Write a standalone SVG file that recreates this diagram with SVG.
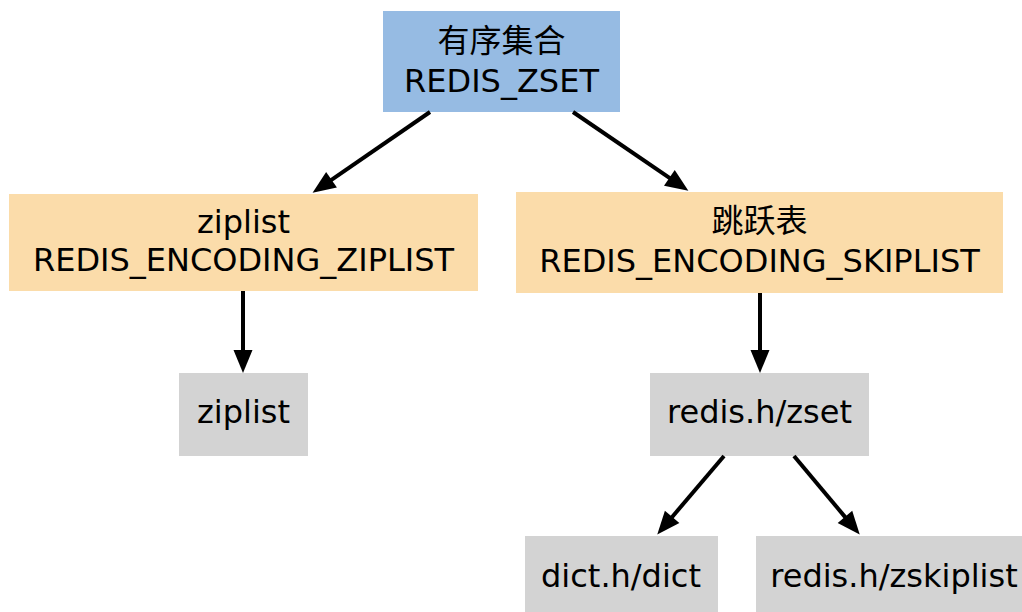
<svg xmlns="http://www.w3.org/2000/svg" width="1022" height="612" viewBox="0 0 1022 612">
<style>
text{font-family:"DejaVu Sans","Noto Sans CJK SC",sans-serif;font-size:32px;fill:#000;text-anchor:middle}
.blue{fill:#96bbe3}
.orange{fill:#fbdcaa}
.gray{fill:#d3d3d3}
.edge{stroke:#000;stroke-width:4;fill:none}
</style>
<defs>
<marker id="arr" markerUnits="userSpaceOnUse" markerWidth="24" markerHeight="20" refX="1" refY="10" orient="auto" overflow="visible">
<path d="M0,0.5 L23,10 L0,19.5 z" fill="#000"/>
</marker>
</defs>
<rect width="1022" height="612" fill="#fff"/>
<g id="n_zset">
<rect class="blue" x="383" y="11" width="237" height="101"/>
<text x="501.5" y="52">有序集合</text>
<text x="501.5" y="92">REDIS_ZSET</text>
</g>
<g id="n_enc_ziplist">
<rect class="orange" x="9" y="194" width="469" height="97"/>
<text x="243.5" y="233">ziplist</text>
<text x="243.5" y="271">REDIS_ENCODING_ZIPLIST</text>
</g>
<g id="n_enc_skiplist">
<rect class="orange" x="516" y="192" width="487" height="101"/>
<text x="759.5" y="232">跳跃表</text>
<text x="759.5" y="272">REDIS_ENCODING_SKIPLIST</text>
</g>
<g id="n_ziplist">
<rect class="gray" x="179" y="373" width="129" height="83"/>
<text x="243.5" y="423">ziplist</text>
</g>
<g id="n_redis_zset">
<rect class="gray" x="650" y="373" width="219" height="83"/>
<text x="759.5" y="423">redis.h/zset</text>
</g>
<g id="n_dict">
<rect class="gray" x="525" y="536" width="193" height="76"/>
<text x="621" y="587">dict.h/dict</text>
</g>
<g id="n_zskiplist">
<rect class="gray" x="756" y="536" width="266" height="76"/>
<text x="894" y="587">redis.h/zskiplist</text>
</g>
<g id="edges">
<line class="edge" x1="430" y1="112" x2="330.7" y2="180.3" marker-end="url(#arr)"/>
<line class="edge" x1="573" y1="112" x2="670.2" y2="178.4" marker-end="url(#arr)"/>
<line class="edge" x1="243" y1="291" x2="243" y2="351" marker-end="url(#arr)"/>
<line class="edge" x1="760" y1="293" x2="760" y2="351" marker-end="url(#arr)"/>
<line class="edge" x1="724" y1="456" x2="671.5" y2="517.7" marker-end="url(#arr)"/>
<line class="edge" x1="794" y1="456" x2="845.6" y2="517.6" marker-end="url(#arr)"/>
</g>
</svg>
